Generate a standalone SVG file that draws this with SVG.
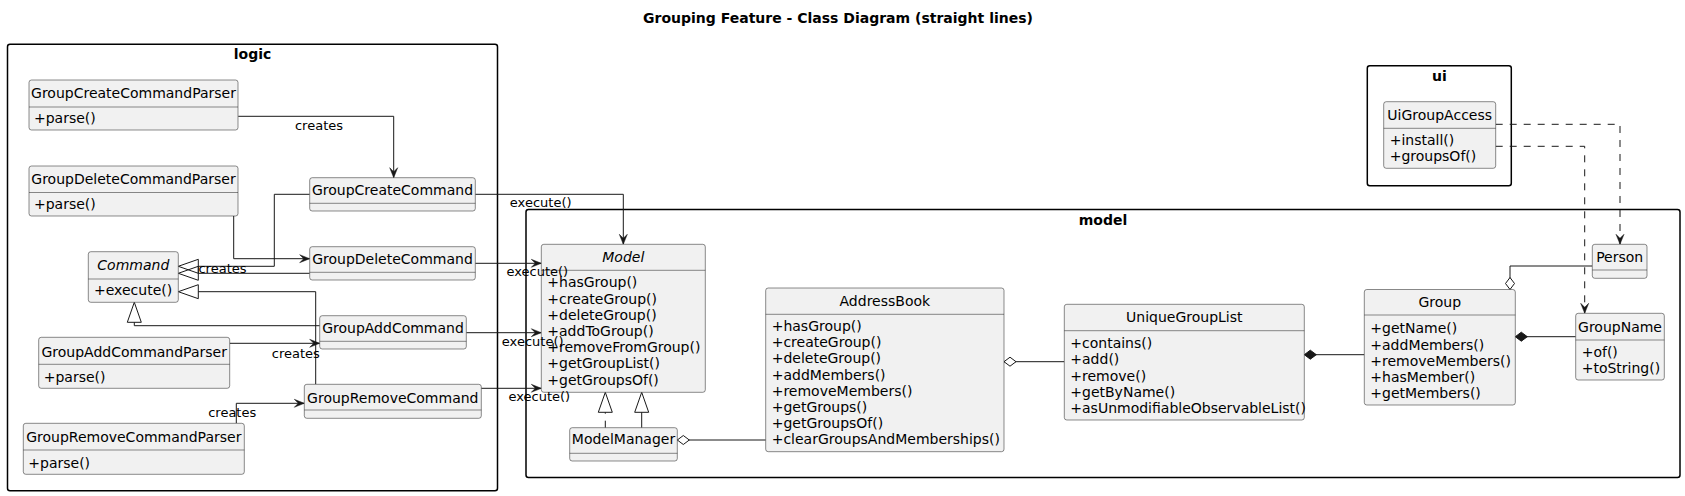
<svg xmlns="http://www.w3.org/2000/svg" width="1685" height="496" viewBox="0 0 1685 496">
<style>
.box{fill:#F1F1F1;stroke:#181818;stroke-width:0.5}
.dv{stroke:#181818;stroke-width:0.5}
.frame{fill:none;stroke:#000;stroke-width:1.5}
.t{font-family:"DejaVu Sans",sans-serif;font-size:14px;fill:#000}
.c{text-anchor:middle}
.i{font-style:italic}
.b{font-weight:bold}
.lbl{font-family:"DejaVu Sans",sans-serif;font-size:13px;fill:#000}
.ln{fill:none;stroke:#181818;stroke-width:1}
.dash{stroke-dasharray:7,7}
.arr{marker-end:url(#arr)}
.tri{marker-end:url(#tri)}
.od{marker-end:url(#odia)}
.fd{marker-end:url(#fdia)}
</style>
<defs>
<marker id="arr" viewBox="-11 -5 12 10" refX="0" refY="0" markerWidth="12" markerHeight="10" markerUnits="userSpaceOnUse" orient="auto"><path d="M0,0 L-10,-4 L-6,0 L-10,4 Z" fill="#181818" stroke="#181818" stroke-width="0.5"/></marker>
<marker id="tri" viewBox="-1 -8 22 16" refX="0" refY="0" markerWidth="22" markerHeight="16" markerUnits="userSpaceOnUse" orient="auto"><path d="M0,-7 L20,0 L0,7 Z" fill="none" stroke="#181818" stroke-width="1"/></marker>
<marker id="odia" viewBox="-13 -6 14 12" refX="0" refY="0" markerWidth="14" markerHeight="12" markerUnits="userSpaceOnUse" orient="auto"><path d="M0,0 L-6,-4.5 L-12,0 L-6,4.5 Z" fill="#FFFFFF" stroke="#181818" stroke-width="1"/></marker>
<marker id="fdia" viewBox="-13 -6 14 12" refX="0" refY="0" markerWidth="14" markerHeight="12" markerUnits="userSpaceOnUse" orient="auto"><path d="M0,0 L-6,-4.5 L-12,0 L-6,4.5 Z" fill="#181818" stroke="#181818" stroke-width="1"/></marker>
</defs>
<rect width="1685" height="496" fill="#FFFFFF"/>
<text class="t b c" x="838" y="23">Grouping Feature - Class Diagram (straight lines)</text>

<g id="pkg-logic">
<rect class="frame" x="7.5" y="44.3" width="490" height="446.4" rx="2.5"/>
<text class="t b c" x="252.5" y="59">logic</text>
</g>
<g id="pkg-model">
<rect class="frame" x="526" y="209.5" width="1154" height="268" rx="2.5"/>
<text class="t b c" x="1103" y="225">model</text>
</g>
<g id="pkg-ui">
<rect class="frame" x="1367.3" y="65.7" width="144" height="120" rx="2.5"/>
<text class="t b c" x="1439.5" y="80.5">ui</text>
</g>

<g id="connectors">
<path class="ln arr" d="M238.3,116.3 H393.7 V177.7"/>
<path class="ln arr" d="M233.7,216 V258.7 H309.7"/>
<path class="ln arr" d="M229.7,343.3 H319.7"/>
<path class="ln arr" d="M236.3,423.3 V403.3 H304.3"/>

<path class="ln tri" d="M309.7,194.3 H274.3 V266.3 H198.3"/>
<path class="ln tri" d="M309.7,273.3 H198.3"/>
<path class="ln tri" d="M315.7,384.3 V291.7 H198.3"/>
<path class="ln tri" d="M319.7,325.7 H134.3 V322.3"/>

<path class="ln arr" d="M475.3,194.3 H623.3 V244.3"/>
<path class="ln arr" d="M475.3,263.3 H541.3"/>
<path class="ln arr" d="M466.3,332.7 H541.3"/>
<path class="ln arr" d="M481.3,388.3 H541.3"/>

<path class="ln dash tri" d="M605.3,427.7 V412.3"/>
<path class="ln tri" d="M641.7,427.7 V412.3"/>

<path class="ln od" d="M765.7,440 H677.3"/>
<path class="ln od" d="M1064.3,361.7 H1004"/>
<path class="ln fd" d="M1364.3,354.7 H1304.3"/>
<path class="ln fd" d="M1575.7,336.7 H1515.3"/>
<path class="ln od" d="M1592.3,266 H1510 V289.5"/>

<path class="ln dash arr" d="M1495.7,124.3 H1620 V244.3"/>
<path class="ln dash arr" d="M1495.7,146.3 H1584.7 V313.3"/>
</g>

<g id="GroupCreateCommandParser">
<rect class="box" x="29" y="80" width="209" height="50" rx="2.5"/>
<line class="dv" x1="29" y1="107" x2="238" y2="107"/>
<text class="t c" x="133.5" y="98.3">GroupCreateCommandParser</text>
<text class="t" x="34" y="123.3">+parse()</text>
</g>
<g id="GroupDeleteCommandParser">
<rect class="box" x="29" y="166" width="209" height="50" rx="2.5"/>
<line class="dv" x1="29" y1="192.5" x2="238" y2="192.5"/>
<text class="t c" x="133.5" y="184.3">GroupDeleteCommandParser</text>
<text class="t" x="34" y="209.3">+parse()</text>
</g>
<g id="GroupCreateCommand">
<rect class="box" x="309.7" y="177.7" width="165.6" height="33.3" rx="2.5"/>
<line class="dv" x1="309.7" y1="203.3" x2="475.3" y2="203.3"/>
<text class="t c" x="392.5" y="195">GroupCreateCommand</text>
</g>
<g id="GroupDeleteCommand">
<rect class="box" x="309.7" y="246.7" width="165.6" height="33.3" rx="2.5"/>
<line class="dv" x1="309.7" y1="272.3" x2="475.3" y2="272.3"/>
<text class="t c" x="392.5" y="264">GroupDeleteCommand</text>
</g>
<g id="Command">
<rect class="box" x="88.3" y="251.7" width="90" height="50.6" rx="2.5"/>
<line class="dv" x1="88.3" y1="279" x2="178.3" y2="279"/>
<text class="t c i" x="133.3" y="270">Command</text>
<text class="t" x="94" y="295">+execute()</text>
</g>
<g id="GroupAddCommand">
<rect class="box" x="319.7" y="315.7" width="146.6" height="33.3" rx="2.5"/>
<line class="dv" x1="319.7" y1="341.3" x2="466.3" y2="341.3"/>
<text class="t c" x="393" y="332.5">GroupAddCommand</text>
</g>
<g id="GroupAddCommandParser">
<rect class="box" x="38.7" y="337.3" width="191" height="51" rx="2.5"/>
<line class="dv" x1="38.7" y1="364.3" x2="229.7" y2="364.3"/>
<text class="t c" x="134.2" y="356.7">GroupAddCommandParser</text>
<text class="t" x="43.7" y="382">+parse()</text>
</g>
<g id="GroupRemoveCommand">
<rect class="box" x="304.3" y="384.3" width="177" height="34" rx="2.5"/>
<line class="dv" x1="304.3" y1="410" x2="481.3" y2="410"/>
<text class="t c" x="392.8" y="402.7">GroupRemoveCommand</text>
</g>
<g id="GroupRemoveCommandParser">
<rect class="box" x="23.3" y="423.3" width="221" height="51" rx="2.5"/>
<line class="dv" x1="23.3" y1="450" x2="244.3" y2="450"/>
<text class="t c" x="133.8" y="442.3">GroupRemoveCommandParser</text>
<text class="t" x="28.3" y="467.7">+parse()</text>
</g>

<g id="Model">
<rect class="box" x="541.3" y="244.3" width="164" height="148" rx="2.5"/>
<line class="dv" x1="541.3" y1="270.3" x2="705.3" y2="270.3"/>
<text class="t c i" x="623.3" y="262.3">Model</text>
<text class="t" x="547.3" y="287.3">+hasGroup()</text>
<text class="t" x="547.3" y="303.5">+createGroup()</text>
<text class="t" x="547.3" y="319.7">+deleteGroup()</text>
<text class="t" x="547.3" y="335.9">+addToGroup()</text>
<text class="t" x="547.3" y="352.1">+removeFromGroup()</text>
<text class="t" x="547.3" y="368.3">+getGroupList()</text>
<text class="t" x="547.3" y="384.5">+getGroupsOf()</text>
</g>
<g id="ModelManager">
<rect class="box" x="569.7" y="427.7" width="107.6" height="33.3" rx="2.5"/>
<line class="dv" x1="569.7" y1="453.3" x2="677.3" y2="453.3"/>
<text class="t c" x="623.5" y="444.3">ModelManager</text>
</g>
<g id="AddressBook">
<rect class="box" x="765.7" y="288" width="238.3" height="163.7" rx="2.5"/>
<line class="dv" x1="765.7" y1="314.3" x2="1004" y2="314.3"/>
<text class="t c" x="884.85" y="306">AddressBook</text>
<text class="t" x="771.7" y="331">+hasGroup()</text>
<text class="t" x="771.7" y="347.2">+createGroup()</text>
<text class="t" x="771.7" y="363.4">+deleteGroup()</text>
<text class="t" x="771.7" y="379.6">+addMembers()</text>
<text class="t" x="771.7" y="395.8">+removeMembers()</text>
<text class="t" x="771.7" y="412">+getGroups()</text>
<text class="t" x="771.7" y="428.2">+getGroupsOf()</text>
<text class="t" x="771.7" y="444.4">+clearGroupsAndMemberships()</text>
</g>
<g id="UniqueGroupList">
<rect class="box" x="1064.3" y="304.3" width="240" height="115.7" rx="2.5"/>
<line class="dv" x1="1064.3" y1="330.7" x2="1304.3" y2="330.7"/>
<text class="t c" x="1184.3" y="322.3">UniqueGroupList</text>
<text class="t" x="1070.3" y="348.3">+contains()</text>
<text class="t" x="1070.3" y="364.4">+add()</text>
<text class="t" x="1070.3" y="380.5">+remove()</text>
<text class="t" x="1070.3" y="396.6">+getByName()</text>
<text class="t" x="1070.3" y="412.7">+asUnmodifiableObservableList()</text>
</g>
<g id="Group">
<rect class="box" x="1364.3" y="289.5" width="151" height="115.5" rx="2.5"/>
<line class="dv" x1="1364.3" y1="315" x2="1515.3" y2="315"/>
<text class="t c" x="1439.8" y="307.3">Group</text>
<text class="t" x="1370.3" y="333.3">+getName()</text>
<text class="t" x="1370.3" y="349.5">+addMembers()</text>
<text class="t" x="1370.3" y="365.7">+removeMembers()</text>
<text class="t" x="1370.3" y="381.9">+hasMember()</text>
<text class="t" x="1370.3" y="398.1">+getMembers()</text>
</g>
<g id="GroupName">
<rect class="box" x="1575.7" y="313.3" width="88.6" height="66.7" rx="2.5"/>
<line class="dv" x1="1575.7" y1="340" x2="1664.3" y2="340"/>
<text class="t c" x="1620" y="332.3">GroupName</text>
<text class="t" x="1581.7" y="357.3">+of()</text>
<text class="t" x="1581.7" y="373.3">+toString()</text>
</g>
<g id="Person">
<rect class="box" x="1592.3" y="244.3" width="54.7" height="34" rx="2.5"/>
<line class="dv" x1="1592.3" y1="270" x2="1647" y2="270"/>
<text class="t c" x="1619.65" y="261.7">Person</text>
</g>
<g id="UiGroupAccess">
<rect class="box" x="1383.7" y="101.7" width="112" height="66.6" rx="2.5"/>
<line class="dv" x1="1383.7" y1="128.3" x2="1495.7" y2="128.3"/>
<text class="t c" x="1439.7" y="120">UiGroupAccess</text>
<text class="t" x="1389.7" y="145">+install()</text>
<text class="t" x="1389.7" y="161">+groupsOf()</text>
</g>

<g id="connector-labels">
<text class="lbl c" x="319" y="129.5">creates</text>
<text class="lbl c" x="295.8" y="357.8">creates</text>
<text class="lbl c" x="232.2" y="416.8">creates</text>
<text class="lbl c" x="222.5" y="272.5">creates</text>
<text class="lbl c" x="540.7" y="207">execute()</text>
<text class="lbl c" x="537.3" y="276">execute()</text>
<text class="lbl c" x="532.7" y="345.5">execute()</text>
<text class="lbl c" x="539.3" y="401">execute()</text>
</g>
</svg>
